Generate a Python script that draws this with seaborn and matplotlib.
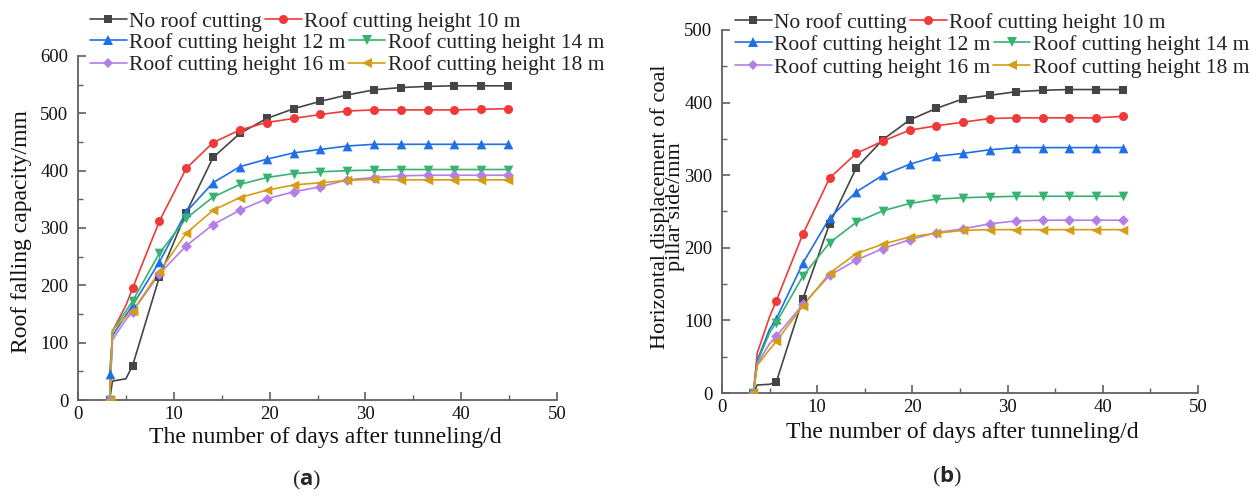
import numpy as np
import pandas as pd
import matplotlib
matplotlib.use("Agg")
import matplotlib.pyplot as plt
from matplotlib.lines import Line2D
from matplotlib.ticker import MultipleLocator
import seaborn as sns

# ---------------- data ----------------
series = ["No roof cutting", "Roof cutting height 10 m", "Roof cutting height 12 m",
          "Roof cutting height 14 m", "Roof cutting height 16 m", "Roof cutting height 18 m"]

# (a) roof falling capacity
days_a = [3.3, 5.7, 8.5, 11.3, 14.1, 16.9, 19.7, 22.5, 25.3, 28.1, 30.9, 33.7, 36.5, 39.3, 42.1, 44.9]
a_no  = [0, 60, 215, 327, 423, 465, 491, 508, 521, 532, 541, 545, 547, 548, 548, 548]
a_h10 = [0, 195, 312, 404, 449, 471, 484, 491, 498, 504, 506, 506, 506, 506, 507, 508]
a_h12 = [45, 165, 241, 328, 379, 407, 420, 431, 437, 443, 446, 446, 446, 446, 446, 446]
a_h14 = [0, 173, 256, 317, 354, 376, 388, 395, 398, 400, 401, 402, 402, 402, 402, 402]
a_h16 = [0, 154, 220, 269, 306, 331, 351, 363, 372, 384, 388, 391, 392, 392, 392, 392]
a_h18 = [0, 155, 224, 291, 331, 353, 366, 375, 379, 383, 385, 384, 384, 384, 384, 384]
# extra points read along the early part of the curves (line only)
a_extra_x = [3.6, 5.0]
a_extra_no  = [33, 37]
a_extra_h10 = [120, 165]
a_extra_h12 = [112, 148]
a_extra_h14 = [120, 155]
a_extra_h16 = [105, 140]
a_extra_h18 = [122, 145]

# (b) horizontal displacement of coal pillar side
days_b = [3.3, 5.7, 8.5, 11.3, 14.1, 16.9, 19.7, 22.5, 25.3, 28.1, 30.9, 33.7, 36.5, 39.3, 42.1]
b_no  = [0, 15, 130, 233, 310, 349, 376, 392, 405, 410, 415, 417, 418, 418, 418]
b_h10 = [0, 127, 219, 296, 330, 347, 362, 368, 373, 378, 379, 379, 379, 379, 381]
b_h12 = [0, 102, 179, 241, 277, 300, 315, 326, 330, 335, 338, 338, 338, 338, 338]
b_h14 = [0, 97, 161, 207, 235, 251, 261, 267, 269, 270, 271, 271, 271, 271, 271]
b_h16 = [0, 78, 122, 162, 183, 199, 211, 221, 226, 233, 237, 238, 238, 238, 238]
b_h18 = [0, 71, 120, 165, 192, 205, 215, 220, 224, 225, 225, 225, 225, 225, 225]
b_extra_x = [3.7, 5.0]
b_extra_no  = [11, 12]
b_extra_h10 = [55, 105]
b_extra_h12 = [45, 88]
b_extra_h14 = [42, 83]
b_extra_h16 = [40, 68]
b_extra_h18 = [38, 60]

colors = ["#454545", "#f03a3a", "#1f6fe5", "#35b36f", "#b47ee8", "#d59e12"]
markers = ["s", "o", "^", "v", "D", "<"]
msizes = [6, 6.5, 7, 7, 5.5, 7]

# ---------------- style ----------------
sns.set_theme(style="ticks")
SERIF = ["Liberation Serif", "DejaVu Serif"]
plt.rcParams["font.family"] = SERIF
plt.rcParams["mathtext.fontset"] = "custom"
plt.rcParams["mathtext.rm"] = "Liberation Serif"
plt.rcParams["mathtext.bf"] = "Open Sans:bold"

W, H = 1250, 498
fig = plt.figure(figsize=(12.5, 4.98), dpi=100)


def fx(px):
    return px / W


def fy(py):
    return 1 - py / H


ax_a = fig.add_axes([fx(78), fy(400), fx(557) - fx(78), fy(56) - fy(400)])
ax_b = fig.add_axes([fx(722), fy(393), fx(1198) - fx(722), fy(30) - fy(393)])


def build(days, ys, extra_x, extras):
    main_rows, line_rows = [], []
    for name, y, ey in zip(series, ys, extras):
        for d, v in zip(days, y):
            main_rows.append((name, d, v))
            line_rows.append((name, d, v))
        for d, v in zip(extra_x, ey):
            line_rows.append((name, d, v))
    main = pd.DataFrame(main_rows, columns=["series", "day", "value"])
    line = pd.DataFrame(line_rows, columns=["series", "day", "value"])
    return main, line


def draw(ax, main, line):
    for name, c, m, ms in zip(series, colors, markers, msizes):
        sub_l = line[line.series == name]
        sub_m = main[main.series == name]
        sns.lineplot(data=sub_l, x="day", y="value", color=c, lw=1.2,
                     estimator=None, sort=True, ax=ax, legend=False)
        sns.scatterplot(data=sub_m, x="day", y="value", color=c, marker=m,
                        s=ms ** 2, linewidth=0, ax=ax, legend=False, zorder=3)


main_a, line_a = build(days_a, [a_no, a_h10, a_h12, a_h14, a_h16, a_h18], a_extra_x,
                       [a_extra_no, a_extra_h10, a_extra_h12, a_extra_h14, a_extra_h16, a_extra_h18])
main_b, line_b = build(days_b, [b_no, b_h10, b_h12, b_h14, b_h16, b_h18], b_extra_x,
                       [b_extra_no, b_extra_h10, b_extra_h12, b_extra_h14, b_extra_h16, b_extra_h18])
draw(ax_a, main_a, line_a)
draw(ax_b, main_b, line_b)

for ax, ymax in ((ax_a, 600), (ax_b, 500)):
    ax.set_xlim(0, 50)
    ax.set_ylim(0, ymax)
    ax.set_xticks(range(0, 51, 10))
    ax.set_yticks(range(0, ymax + 1, 100))
    ax.xaxis.set_minor_locator(MultipleLocator(5))
    ax.yaxis.set_minor_locator(MultipleLocator(50))
    ax.set_xlabel("")
    ax.set_ylabel("")
    for s in ("top", "right"):
        ax.spines[s].set_visible(False)
    for s in ("left", "bottom"):
        ax.spines[s].set_color("#606060")
        ax.spines[s].set_linewidth(1.3)
    ax.tick_params(which="major", direction="in", length=6, width=1.2, color="#606060",
                   labelsize=13.5, labelcolor="#111111")
    ax.tick_params(which="minor", direction="in", length=3.5, width=1.0, color="#606060")
    ax.tick_params(axis="x", pad=4)
    ax.tick_params(axis="y", pad=7)
    for lab in ax.get_xticklabels() + ax.get_yticklabels():
        lab.set_fontfamily(SERIF)
    ax.set_facecolor("white")

# axis titles
fig.text(fx(325), fy(438), "The number of days after tunneling/d", ha="center", va="center",
         fontsize=17, color="#111111")
fig.text(fx(962), fy(432), "The number of days after tunneling/d", ha="center", va="center",
         fontsize=17, color="#111111")
fig.text(fx(22), fy(232), "Roof falling capacity/mm", ha="center", va="center",
         rotation=90, fontsize=17, color="#111111")
fig.text(fx(668), fy(207), "Horizontal displacement of coal\npillar side/mm", ha="center",
         va="center", rotation=90, fontsize=16, color="#111111", linespacing=0.72)
fig.text(fx(307), fy(480), r"$(\mathbf{a})$", ha="center", va="center", fontsize=16)
fig.text(fx(947), fy(477), r"$(\mathbf{b})$", ha="center", va="center", fontsize=16)

# legends: three rows, each a two-entry legend (entries flow after each other)
handles = [Line2D([], [], color=c, marker=m, markersize=ms, lw=1.2, markeredgewidth=0)
           for c, m, ms in zip(colors, markers, msizes)]


def add_legends(x0, rows):
    for r, yrow in enumerate(rows):
        hs = handles[2 * r:2 * r + 2]
        ls = series[2 * r:2 * r + 2]
        leg = fig.legend(hs, ls, ncol=2, loc="center left",
                         bbox_to_anchor=(fx(x0), fy(yrow)), bbox_transform=fig.transFigure,
                         frameon=False, fontsize=15.5, handlelength=1.7, handletextpad=0.12,
                         columnspacing=0.14, borderpad=0, borderaxespad=0)
        for t in leg.get_texts():
            t.set_color("#222222")


add_legends(90, [22, 43, 65])
add_legends(735, [22.7, 45, 68])

fig.savefig("out.png", dpi=100)
